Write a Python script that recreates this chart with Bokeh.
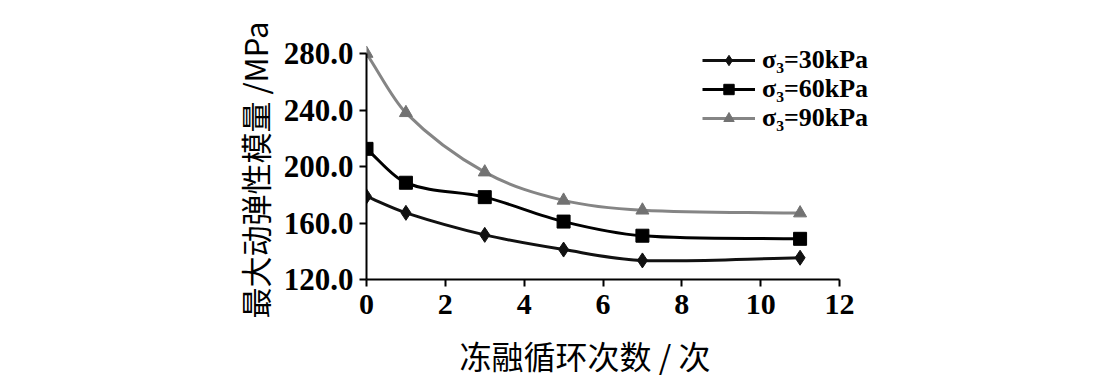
from bokeh.plotting import figure
from bokeh.models import (ColumnDataSource, Legend, LegendItem, FixedTicker,
                          PrintfTickFormatter, Range1d, Title)
from bokeh.embed import file_html
from bokeh.resources import INLINE

# ---- data ----
cycles = [0, 1, 3, 5, 7, 11]
e_30kpa = [178.8, 167.2, 151.6, 141.2, 133.5, 135.4]
e_60kpa = [212.5, 188.5, 178.3, 161.0, 151.0, 148.8]
e_90kpa = [280.0, 238.0, 196.0, 176.0, 169.0, 167.0]
series_labels = ["σ₃=30kPa", "σ₃=60kPa", "σ₃=90kPa"]
x_ticks = [0, 2, 4, 6, 8, 10, 12]
y_ticks = [120, 160, 200, 240, 280]
x_title = "冻融循环次数 / 次"
y_title = "最大动弹性模量 /MPa"

SERIF = "Liberation Serif"
CJK = "Noto Sans CJK SC"

# axes span x 0..12 over 473 px and y 120..280 over 226 px; the frame is a
# little larger so that the legend is not clipped
FW, FH = 540, 254
X_END = 12 * FW / 473.0
Y_END = 120 + 160 * FH / 226.0

p = figure(frame_width=FW, frame_height=FH, width=1099, height=376,
           min_border_left=366, min_border_right=1099 - 366 - FW,
           min_border_top=25, min_border_bottom=97,
           output_backend="svg", toolbar_location=None,
           x_range=Range1d(0, X_END), y_range=Range1d(120, Y_END))
p.outline_line_color = None
p.xgrid.visible = False
p.ygrid.visible = False
p.background_fill_color = "white"
p.border_fill_color = "white"


def smooth_segments(xs, ys):
    """Cubic Hermite segments (as Bezier control points) through the data."""
    n = len(xs)
    m = []
    for i in range(n):
        if i == 0:
            m.append((ys[1] - ys[0]) / (xs[1] - xs[0]))
        elif i == n - 1:
            m.append((ys[-1] - ys[-2]) / (xs[-1] - xs[-2]))
        else:
            m.append((ys[i + 1] - ys[i - 1]) / (xs[i + 1] - xs[i - 1]))
    d = dict(x0=[], y0=[], x1=[], y1=[], cx0=[], cy0=[], cx1=[], cy1=[])
    for i in range(n - 1):
        h = xs[i + 1] - xs[i]
        d["x0"].append(xs[i]); d["y0"].append(ys[i])
        d["x1"].append(xs[i + 1]); d["y1"].append(ys[i + 1])
        d["cx0"].append(xs[i] + h / 3); d["cy0"].append(ys[i] + m[i] * h / 3)
        d["cx1"].append(xs[i + 1] - h / 3); d["cy1"].append(ys[i + 1] - m[i + 1] * h / 3)
    return ColumnDataSource(d)


styles = [
    (e_30kpa, "#111111", "#111111", "diamond", 15),
    (e_60kpa, "#000000", "#000000", "square", 13),
    (e_90kpa, "#858585", "#727272", "triangle", 13),
]
legend_y = [204, 175, 146]   # one legend row per series, px above frame bottom

for (vals, lc, mc, marker, size), lab, ly in zip(styles, series_labels, legend_y):
    br = p.bezier(x0="x0", y0="y0", x1="x1", y1="y1", cx0="cx0", cy0="cy0",
                  cx1="cx1", cy1="cy1", source=smooth_segments(cycles, vals),
                  line_color=lc, line_width=3)
    sr = p.scatter(cycles, vals, marker=marker, size=size, fill_color=mc,
                   line_color=mc)
    lg = Legend(items=[LegendItem(label=lab, renderers=[br, sr], index=0)],
                location=(336, ly), padding=0, margin=0,
                glyph_width=53, glyph_height=26, label_height=26,
                label_standoff=7, border_line_color=None,
                background_fill_alpha=0,
                label_text_font=SERIF, label_text_font_size="26px",
                label_text_font_style="bold", label_text_color="black")
    p.add_layout(lg, "center")

for ax in (p.xaxis[0], p.yaxis[0]):
    ax.axis_line_color = "black"
    ax.axis_line_width = 2
    ax.major_tick_line_color = "black"
    ax.major_tick_line_width = 2
    ax.major_tick_in = 0
    ax.major_tick_out = 7
    ax.minor_tick_line_color = None
    ax.major_label_text_font = SERIF
    ax.major_label_text_font_style = "bold"
    ax.major_label_text_color = "black"

p.xaxis.bounds = (0, 12)
p.yaxis.bounds = (120, 280)
p.xaxis.ticker = FixedTicker(ticks=x_ticks)
p.yaxis.ticker = FixedTicker(ticks=y_ticks)
p.yaxis.formatter = PrintfTickFormatter(format="%.1f")
p.xaxis.major_label_text_font_size = "30px"
p.yaxis.major_label_text_font_size = "31px"
p.xaxis.major_label_standoff = 8
p.yaxis.major_label_standoff = 6

xt = Title(text=x_title, align="left", offset=93, standoff=27,
           text_font=CJK, text_font_size="32px", text_font_style="normal",
           text_color="black")
p.add_layout(xt, "below")

yt = Title(text=y_title, align="left", offset=-39, standoff=8,
           text_font=CJK, text_font_size="31px", text_font_style="normal",
           text_color="black")
p.add_layout(yt, "left")

open("out.html", "w").write(file_html(p, INLINE))
